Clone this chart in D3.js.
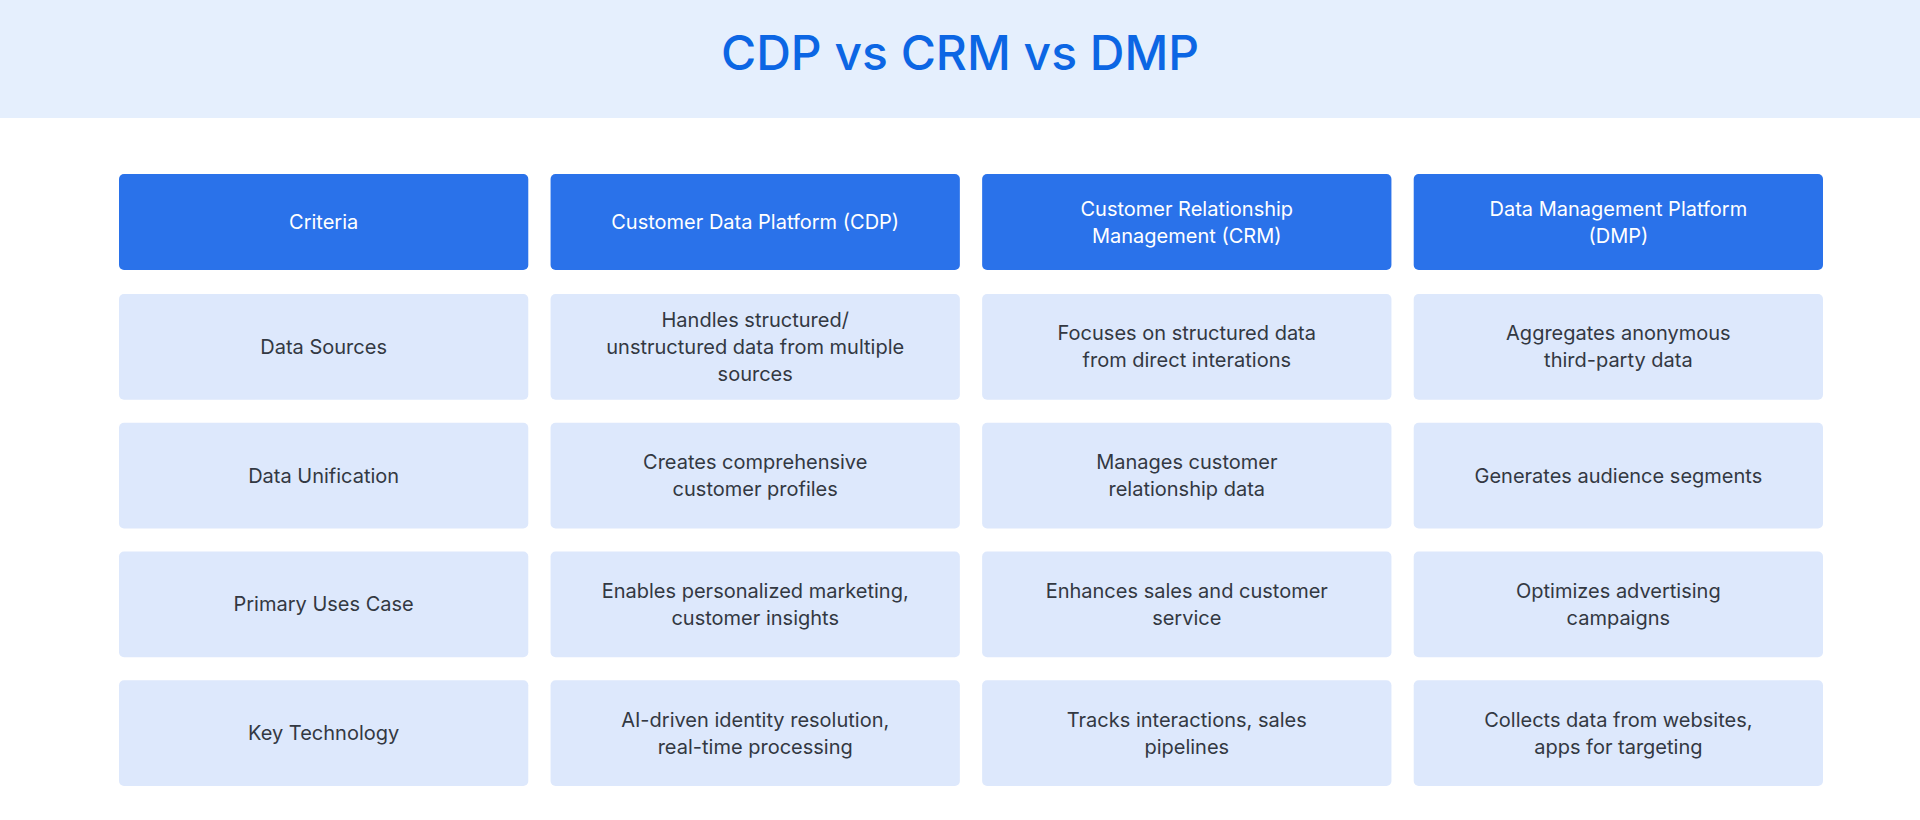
<!DOCTYPE html>
<html>
<head>
<meta charset="utf-8">
<script src="https://cdn.jsdelivr.net/npm/d3@7"></script>
<style>
  body { margin: 0; background: #fff; }
</style>
</head>
<body>
<div id="chart"></div>
<script>
const title = "CDP vs CRM vs DMP";
const columns = [
    ["Criteria"],
    ["Customer Data Platform (CDP)"],
    ["Customer Relationship", "Management (CRM)"],
    ["Data Management Platform", "(DMP)"]
];
const criteria = [
    ["Data Sources"],
    ["Data Unification"],
    ["Primary Uses Case"],
    ["Key Technology"]
];
const cdp = [
    ["Handles structured/", "unstructured data from multiple", "sources"],
    ["Creates comprehensive", "customer profiles"],
    ["Enables personalized marketing,", "customer insights"],
    ["AI-driven identity resolution,", "real-time processing"]
];
const crm = [
    ["Focuses on structured data", "from direct interations"],
    ["Manages customer", "relationship data"],
    ["Enhances sales and customer", "service"],
    ["Tracks interactions, sales", "pipelines"]
];
const dmp = [
    ["Aggregates anonymous", "third-party data"],
    ["Generates audience segments"],
    ["Optimizes advertising", "campaigns"],
    ["Collects data from websites,", "apps for targeting"]
];

function drawTable() {
    const width = 1920, height = 820;
    const svg = d3.select("#chart").append("svg")
        .attr("width", width)
        .attr("height", height)
        .style("font-family", "Inter, 'Noto Sans', sans-serif");

    svg.append("rect")
        .attr("width", width).attr("height", 118)
        .attr("fill", "#e5effd");

    svg.append("text")
        .attr("x", width / 2).attr("y", 70)
        .attr("text-anchor", "middle")
        .style("font-size", "48px")
        .style("font-weight", 500)
        .style("fill", "#0c66e4")
        .text(title);

    const x = d3.scaleBand()
        .domain(d3.range(columns.length))
        .range([119, 1823])
        .paddingInner(22 / 426)
        .paddingOuter(0);

    const rowsData = criteria.map((c, i) => [c, cdp[i], crm[i], dmp[i]]);

    const y = d3.scaleBand()
        .domain(d3.range(rowsData.length))
        .range([294, 786])
        .paddingInner(22 / 123)
        .paddingOuter(0);

    const lineH = 27;

    const addCell = (g, cx, cy, w, h, lines, fill, color) => {
        g.append("rect")
            .attr("x", cx).attr("y", cy)
            .attr("width", w).attr("height", h)
            .attr("rx", 5)
            .attr("fill", fill);
        const t = g.append("text")
            .attr("text-anchor", "middle")
            .style("font-size", "20px")
            .style("fill", color);
        const startY = cy + h / 2 - (lines.length - 1) * lineH / 2;
        lines.forEach((l, k) => {
            t.append("tspan")
                .attr("x", cx + w / 2)
                .attr("y", startY + k * lineH)
                .attr("dy", "0.35em")
                .text(l);
        });
    };

    const header = svg.append("g").attr("class", "header");
    columns.forEach((c, j) => {
        addCell(header, x(j), 174, x.bandwidth(), 96, c, "#2a72ea", "#ffffff");
    });

    const body = svg.append("g").attr("class", "body");
    rowsData.forEach((row, i) => {
        row.forEach((cell, j) => {
            addCell(body, x(j), y(i), x.bandwidth(), y.bandwidth(), cell, "#dde8fc", "#333842");
        });
    });
}

drawTable();
</script>
</body>
</html>
